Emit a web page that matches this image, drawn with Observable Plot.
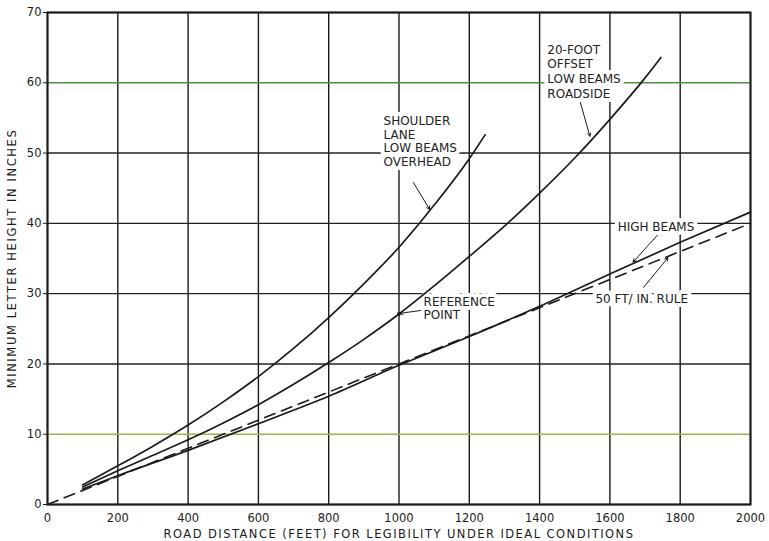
<!DOCTYPE html>
<html>
<head>
<meta charset="utf-8">
<script src="https://cdn.jsdelivr.net/npm/d3@7"></script>
<script src="https://cdn.jsdelivr.net/npm/@observablehq/plot@0.6"></script>
<style>
  html, body { margin: 0; padding: 0; background: #fff; }
  #chart svg { display: block; }
  #chart [aria-label="x-axis label"] text { letter-spacing: 1.45px; }
  #chart [aria-label="y-axis label"] text { letter-spacing: 1.6px; }
</style>
</head>
<body>
<div id="chart"></div>
<script>
const xTicks = [0, 200, 400, 600, 800, 1000, 1200, 1400, 1600, 1800, 2000];
const yTicks = [0, 10, 20, 30, 40, 50, 60, 70];
const gridColorY = ["#222", "#9fb24a", "#222", "#222", "#222", "#222", "#4f8f45", "#222"];

const shoulderX = [100, 200, 300, 400, 500, 600, 700, 800, 900, 1000, 1100, 1200, 1245];
const shoulderY = [2.8, 5.5, 8.3, 11.3, 14.6, 18.2, 22.2, 26.6, 31.4, 36.6, 42.6, 49.2, 52.6];

const offsetX = [100, 200, 300, 400, 500, 600, 700, 800, 900, 1000, 1100, 1200, 1300, 1400, 1500, 1600, 1700, 1745];
const offsetY = [2.5, 4.8, 7.0, 9.2, 11.6, 14.2, 17.1, 20.2, 23.5, 27.1, 31.1, 35.3, 39.6, 44.3, 49.3, 54.8, 60.7, 63.6];

const highX = [100, 200, 400, 600, 800, 1000, 1200, 1400, 1600, 1800, 2000];
const highY = [2.2, 4.1, 7.7, 11.5, 15.4, 19.8, 23.9, 28.2, 32.8, 37.3, 41.6];

const ruleX = [0, 2000];
const ruleY = [0, 40];

const labelText = ["SHOULDER\nLANE\nLOW BEAMS\nOVERHEAD", "20-FOOT\nOFFSET\nLOW BEAMS\nROADSIDE", "HIGH BEAMS", "50 FT/ IN. RULE", "REFERENCE\nPOINT"];
const labelX = [956, 1422, 1622, 1559, 1070];
const labelY = [55.3, 65.6, 39.5, 29.3, 29.6];
const labelLineAnchor = ["top", "top", "middle", "middle", "top"];
const labelLineHeight = [1.12, 1.22, 1.1, 1.1, 1.12];

const leaderX1 = [1041, 1516, 1735, 1696, 1061];
const leaderY1 = [45.8, 57.2, 38.3, 30.9, 27.6];
const leaderX2 = [1087, 1543, 1666, 1765, 1003];
const leaderY2 = [42.0, 52.4, 34.5, 35.1, 27.2];

const refX = [1000];
const refY = [27.1];

const toRows = (xs, ys) => xs.map((x, i) => ({x, y: ys[i]}));
const shoulder = toRows(shoulderX, shoulderY);
const offset = toRows(offsetX, offsetY);
const high = toRows(highX, highY);
const rule = toRows(ruleX, ruleY);
const labels = labelText.map((t, i) => ({t, x: labelX[i], y: labelY[i], a: labelLineAnchor[i], lh: labelLineHeight[i]}));
const leaders = leaderX1.map((x1, i) => ({x1, y1: leaderY1[i], x2: leaderX2[i], y2: leaderY2[i]}));
const yGrid = yTicks.map((v, i) => ({v, c: gridColorY[i]}));

const ink = "#1b1b1b";
const textMark = (d) => Plot.text([d], {x: "x", y: "y", text: "t", lineAnchor: d.a, textAnchor: "start",
  fontSize: 12, lineHeight: d.lh, fill: "#222", stroke: "white", strokeWidth: 8});

const chart = Plot.plot({
  width: 769,
  height: 541,
  marginLeft: 47,
  marginRight: 19,
  marginTop: 12,
  marginBottom: 37,
  style: {fontFamily: "DejaVu Sans", fontSize: "11.5px", color: ink, background: "#fff"},
  x: {domain: [0, 2000], ticks: xTicks, tickFormat: "d", tickSize: 0, tickPadding: 9,
      label: "ROAD DISTANCE (FEET) FOR LEGIBILITY UNDER IDEAL CONDITIONS",
      labelAnchor: "center", labelArrow: "none", labelOffset: 33},
  y: {domain: [0, 70], ticks: yTicks, tickFormat: "d", tickSize: 4, tickPadding: 2,
      label: "MINIMUM LETTER HEIGHT IN INCHES",
      labelAnchor: "center", labelArrow: "none", labelOffset: 40},
  marks: [
    Plot.ruleX(xTicks, {stroke: ink, strokeWidth: 1.4}),
    Plot.ruleY(yGrid, {y: "v", stroke: d => d.c, strokeWidth: 1.4}),
    ...labels.map(textMark),
    Plot.line(rule, {x: "x", y: "y", stroke: ink, strokeWidth: 1.6, strokeDasharray: "11,7"}),
    Plot.line(high, {x: "x", y: "y", stroke: ink, strokeWidth: 1.7, curve: "monotone-x"}),
    Plot.line(offset, {x: "x", y: "y", stroke: ink, strokeWidth: 1.7, curve: "monotone-x"}),
    Plot.line(shoulder, {x: "x", y: "y", stroke: ink, strokeWidth: 1.7, curve: "monotone-x"}),
    Plot.arrow(leaders, {x1: "x1", y1: "y1", x2: "x2", y2: "y2", stroke: ink, strokeWidth: 1, headLength: 5}),
    Plot.dot(toRows(refX, refY), {x: "x", y: "y", r: 2, fill: ink}),
    Plot.frame({stroke: ink, strokeWidth: 2})
  ]
});
document.getElementById("chart").appendChild(chart);
</script>
</body>
</html>
